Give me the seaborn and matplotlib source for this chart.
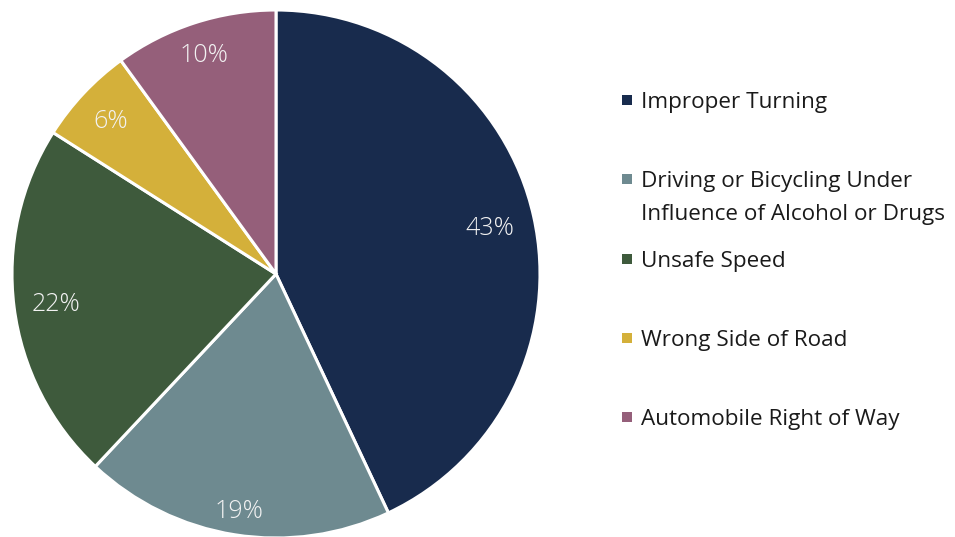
import matplotlib
matplotlib.use("Agg")
import matplotlib.pyplot as plt
import numpy as np
import seaborn as sns

# Collision causes and their share of crashes (%)
causes = [
    "Improper Turning",
    "Driving or Bicycling Under\nInfluence of Alcohol or Drugs",
    "Unsafe Speed",
    "Wrong Side of Road",
    "Automobile Right of Way",
]
shares = [43, 19, 22, 6, 10]
colors = ["#182B4D", "#6E8A90", "#3E5A3C", "#D4B03A", "#955F7A"]

sns.set_theme(style="white")
plt.rcParams["font.family"] = ["Open Sans", "DejaVu Sans"]

W, H = 955, 537
fig = plt.figure(figsize=(W / 100, H / 100), dpi=100)
fig.patch.set_facecolor("white")

# Pie axes: centre (276, 274) px, radius 264 px
cx, cy, r = 276, 274, 264
ax = fig.add_axes([(cx - r) / W, (H - cy - r) / H, 2 * r / W, 2 * r / H])
palette = sns.color_palette(colors)
wedges, _ = ax.pie(
    shares,
    colors=palette,
    startangle=90,
    counterclock=False,
    radius=1,
    wedgeprops=dict(edgecolor="white", linewidth=2.2),
)
ax.set_xlim(-1, 1)
ax.set_ylim(-1, 1)
ax.set_aspect("equal")
ax.axis("off")

# Percentage labels inside each wedge
label_radius = [0.83, 0.90, 0.84, 0.86, 0.88]
for w, v, lr in zip(wedges, shares, label_radius):
    mid = np.deg2rad((w.theta1 + w.theta2) / 2)
    ax.text(lr * np.cos(mid), lr * np.sin(mid) - 0.01, f"{v}%",
            ha="center", va="center", fontsize=18, color="#F2F2F2",
            fontweight="light")

# Legend drawn in pixel coordinates on the right
lax = fig.add_axes([0, 0, 1, 1])
lax.set_xlim(0, W)
lax.set_ylim(H, 0)
lax.axis("off")
rows = np.arange(len(causes))
ys = 100 + rows * 79.3
lax.scatter(np.full(len(causes), 627), ys, marker="s", s=52,
            c=colors, linewidths=0)
for y, name in zip(ys, causes):
    for i, line in enumerate(name.split("\n")):
        lax.text(641, y + 8 + i * 33, line, ha="left", va="baseline",
                 fontsize=16.2, color="#1A1A1A")

fig.savefig("out.png", dpi=100, facecolor="white")
